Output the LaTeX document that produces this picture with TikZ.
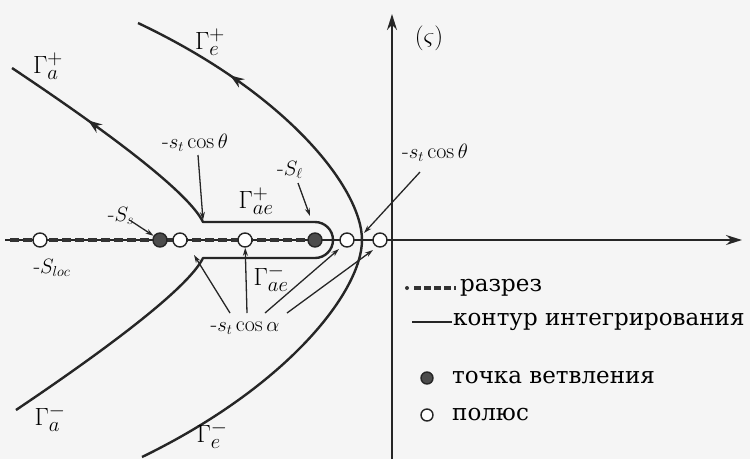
\documentclass[tikz,border=0pt]{standalone}
\usepackage{fontspec}
\newfontfamily\rufont{DejaVu Serif}
\usetikzlibrary{arrows.meta,decorations.markings}
\begin{document}
\begin{tikzpicture}[x=1pt,y=-1pt,
  contour/.style={draw=black!85,line width=2.4pt,line join=round},
  axisline/.style={draw=black!85,line width=1.6pt,-{Stealth[length=16pt,width=10pt]}},
  leader/.style={draw=black!85,line width=1.3pt,-{Stealth[length=8pt,width=5pt]}},
  cutline/.style={draw=black!80,line width=3.6pt,dash pattern=on 9pt off 4pt},
  pole/.style={circle,draw=black!85,line width=1.4pt,fill=white,minimum size=14pt,inner sep=0pt},
  branch/.style={circle,draw=black!85,line width=1.4pt,fill=black!70,minimum size=14pt,inner sep=0pt},
  glab/.style={font=\fontsize{28}{30}\selectfont,inner sep=0pt},
  slab/.style={font=\fontsize{22}{24}\selectfont,inner sep=0pt},
  legtext/.style={font=\rufont\fontsize{23}{26}\selectfont,anchor=west,inner sep=0pt},
  midarrow/.style={postaction={decorate,decoration={markings,mark=at position #1 with {\arrow{Stealth[length=14pt,width=10pt]}}}}}
]
\fill[black!4] (0,0) rectangle (750,459);
\useasboundingbox (0,0) rectangle (750,459);

% axes
\coordinate (hxS) at (5,240);
\coordinate (hxE) at (742,240);
\coordinate (vxS) at (392,459);
\coordinate (vxE) at (392,14);
\draw[axisline] (hxS) -- (hxE);
\draw[axisline] (vxS) -- (vxE);

% cut
\coordinate (cutS) at (10,240);
\coordinate (cutE) at (315,240);
\draw[cutline] (cutS) -- (cutE);

% contour Gamma_a with hairpin
\draw[contour,midarrow=0.88] (16,410) .. controls (120,340) and (190,285) .. (203,258)
  -- (315,258) arc[start angle=90,end angle=-90,radius=18]
  -- (203,222) .. controls (190,195) and (120,140) .. (12,68);

% contour Gamma_e
\draw[contour,midarrow=0.835] (142,457) .. controls (290,385) and (362,290) .. (362,240)
  .. controls (362,190) and (290,95) .. (138,23);

% poles and branch points
\node[pole] (pLoc) at (40,240) {};
\node[branch] (bS) at (160,240) {};
\node[pole] (p1) at (180,240) {};
\node[pole] (p2) at (245,240) {};
\node[branch] (bL) at (315,240) {};
\node[pole] (p3) at (347,240) {};
\node[pole] (p4) at (380,240) {};

% labels
\node[glab] (GaP) at (48,66) {$\Gamma_a^{+}$};
\node[glab] (GeP) at (210,42) {$\Gamma_e^{+}$};
\node[font=\fontsize{32}{34}\selectfont,inner sep=0pt] (zeta) at (429,38) {$(\varsigma)$};
\node[slab] (lt1) at (195,143) {-$s_t\cos\theta$};
\node[slab] (lt2) at (435,153) {-$s_t\cos\theta$};
\node[slab] (lSl) at (290,170) {-$S_\ell$};
\node[slab] (lSs) at (121,216) {-$S_s$};
\node[slab] (lSloc) at (52,268) {-$S_{loc}$};
\node[glab] (GaeP) at (256,201) {$\Gamma_{ae}^{+}$};
\node[glab] (GaeM) at (271,278) {$\Gamma_{ae}^{-}$};
\node[slab] (lca) at (245,328) {-$s_t\cos\alpha$};
\node[glab] (GaM) at (50,418) {$\Gamma_a^{-}$};
\node[glab] (GeM) at (212,435) {$\Gamma_e^{-}$};

% leaders
\coordinate (ssA) at (131,221);
\draw[leader] (ssA) -- (bS);
\coordinate (slA) at (298,183);
\coordinate (slB) at (310,216);
\draw[leader] (slA) -- (slB);
\coordinate (t1A) at (198,155);
\coordinate (t1B) at (203,220);
\draw[leader] (t1A) -- (t1B);
\coordinate (t2A) at (420,172);
\coordinate (t2B) at (364,233);
\draw[leader] (t2A) -- (t2B);
\coordinate (caA) at (230,313);
\coordinate (caB) at (194,255);
\draw[leader] (caA) -- (caB);
\coordinate (cbA) at (247,313);
\draw[leader] (cbA) -- (p2);
\coordinate (ccA) at (265,313);
\coordinate (ccB) at (339,249);
\draw[leader] (ccA) -- (ccB);
\coordinate (cdA) at (287,313);
\coordinate (cdB) at (373,250);
\draw[leader] (cdA) -- (cdB);

% legend
\node[circle,fill=black!80,minimum size=4pt,inner sep=0pt] (legdot) at (407,288) {};
\coordinate (legcS) at (414,288);
\coordinate (legcE) at (456,288);
\draw[draw=black!80,line width=3.4pt,dash pattern=on 7pt off 3pt] (legcS) -- (legcE);
\node[legtext] (lg1) at (460,288) {разрез};
\coordinate (leglS) at (412,322);
\coordinate (leglE) at (452,322);
\draw[contour] (leglS) -- (leglE);
\node[legtext] (lg2) at (453,322) {контур интегрирования};
\node[branch,minimum size=12pt] (legb) at (427,378) {};
\node[legtext] (lg3) at (452,378) {точка ветвления};
\node[pole,minimum size=12pt] (legp) at (427,415) {};
\node[legtext] (lg4) at (452,415) {полюс};
\end{tikzpicture}
\end{document}
